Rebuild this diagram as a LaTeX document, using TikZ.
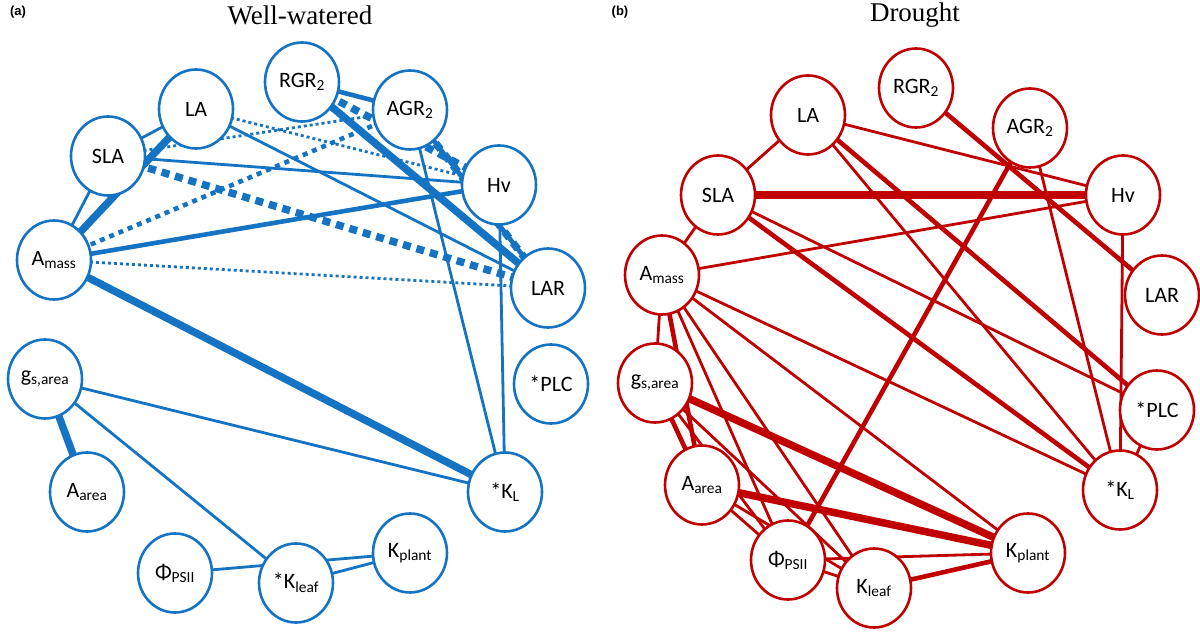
\documentclass[tikz,border=0pt]{standalone}
\usepackage{fontspec}
\setmainfont{Carlito}
\newfontfamily\serifx{Liberation Serif}
\newfontfamily\sansb{Liberation Sans}
\usetikzlibrary{shapes.geometric,backgrounds}
\newcommand{\sbx}[1]{\textsubscript{#1}}
\begin{document}
\begin{tikzpicture}[x=1pt,y=-1pt,
 nb/.style={ellipse,draw=blu,line width=2.6pt,fill=white,minimum width=74pt,minimum height=79pt,inner sep=0pt,font=\fontsize{22}{22}\selectfont},
 nr/.style={nb,draw=rd},
 e1/.style={line width=2.8pt},e2/.style={line width=4.6pt},e3/.style={line width=7.5pt},
 dt/.style={dash pattern=on 3pt off 3pt},dh/.style={dash pattern=on 8pt off 6pt}]
\definecolor{blu}{RGB}{20,115,195}
\definecolor{rd}{RGB}{192,0,0}
\useasboundingbox (0,0) rectangle (1200,636);
\node[font=\sansb\bfseries\fontsize{13}{13}\selectfont] (la) at (18,12) {(a)};
\node[font=\sansb\bfseries\fontsize{13}{13}\selectfont] (lb) at (620,12) {(b)};
\node[font=\serifx\fontsize{27}{27}\selectfont] (ta) at (300,15) {Well-watered};
\node[font=\serifx\fontsize{27}{27}\selectfont] (tb) at (915,15) {Drought};
% left nodes
\begin{scope}[every node/.style={nb}]
\node (LA) at (196,109) {LA};
\node (RGR) at (302,82) {RGR\sbx{2}};
\node (AGR) at (410,110) {AGR\sbx{2}};
\node (SLA) at (108,156) {SLA};
\node (Hv) at (499,185) {Hv};
\node (Am) at (54,260) {A\sbx{mass}};
\node (LAR) at (548,288) {LAR};
\node (gs) at (45,379) {g\sbx{s,area}};
\node (PLC) at (551,384) {*PLC};
\node (Aa) at (87,492) {A\sbx{area}};
\node (KL) at (505,492) {*K\sbx{L}};
\node (Kp) at (410,553) {K\sbx{plant}};
\node (Ph) at (175,573) {Φ\sbx{PSII}};
\node (Kl) at (296,583) {*K\sbx{leaf}};
\end{scope}
% right nodes
\begin{scope}[every node/.style={nr}]
\node (rLA) at (808,115) {LA};
\node (rRGR) at (916,88) {RGR\sbx{2}};
\node (rAGR) at (1030,128) {AGR\sbx{2}};
\node (rSLA) at (718,195) {SLA};
\node (rHv) at (1123,195) {Hv};
\node (rAm) at (662,275) {A\sbx{mass}};
\node (rLAR) at (1162,295) {LAR};
\node (rgs) at (655,383) {g\sbx{s,area}};
\node (rPLC) at (1157,410) {*PLC};
\node (rAa) at (702,485) {A\sbx{area}};
\node (rKL) at (1120,490) {*K\sbx{L}};
\node (rPh) at (788,560) {Φ\sbx{PSII}};
\node (rKl) at (874,588) {K\sbx{leaf}};
\node (rKp) at (1028,553) {K\sbx{plant}};
\end{scope}
\begin{pgfonlayer}{background}
\begin{scope}[draw=blu]
\draw[e1] (SLA.center)--(LA.center);
\draw[e1] (Am.center)--(SLA.center);
\draw[e3] (Am.center)--(LA.center);
\draw[e1,dt] (LA.center)--(Hv.center);
\draw[e1] (LA.center)--(LAR.center);
\draw[e1] (SLA.center)--(Hv.center);
\draw[e1,dt] (SLA.center)--(AGR.center);
\draw[e3,dh] (SLA.center)--(LAR.center);
\draw[e2,dash pattern=on 5pt off 5pt] (Am.center)--(AGR.center);
\draw[e2] (Am.center)--(Hv.center);
\draw[e1,dt] (Am.center)--(LAR.center);
\draw[e3] (Am.center)--(KL.center);
\draw[e2] (RGR.center)--(AGR.center);
\draw[e3] (RGR.center)--(LAR.center);
\draw[e3,dh] (RGR.center)--(Hv.center);
\draw[e2] (AGR.center)--(LAR.center);
\draw[e3,dh] (AGR.center)--(LAR.center);
\draw[e1] (AGR.center)--(KL.center);
\draw[e1] (Hv.center)--(KL.center);
\draw[e3] (gs.center)--(Aa.center);
\draw[e1] (gs.center)--(Kl.center);
\draw[e1] (gs.center)--(KL.center);
\draw[e1] (Ph.center)--(Kp.center);
\draw[e1] (Kl.center)--(Kp.center);
\end{scope}
\begin{scope}[draw=rd]
\draw[e1] (rSLA.center)--(rLA.center);
\draw[e1] (rSLA.center)--(rAm.center);
\draw[e1] (rLA.center)--(rHv.center);
\draw[e1] (rLA.center)--(rKL.center);
\draw[e2] (rLA.center)--(rPLC.center);
\draw[e3] (rSLA.center)--(rHv.center);
\draw[e2] (rSLA.center)--(rKL.center);
\draw[e1] (rSLA.center)--(rPLC.center);
\draw[e1] (rAm.center)--(rHv.center);
\draw[e1] (rAm.center)--(rKL.center);
\draw[e1] (rAm.center)--(rgs.center);
\draw[e2] (rAm.center)--(rAa.center);
\draw[e1] (rAm.center)--(rPh.center);
\draw[e1] (rAm.center)--(rKl.center);
\draw[e1] (rAm.center)--(rKp.center);
\draw[e2] (rRGR.center)--(rLAR.center);
\draw[e2] (rAGR.center)--(rPh.center);
\draw[e1] (rAGR.center)--(rKL.center);
\draw[e1] (rHv.center)--(rKL.center);
\draw[e1] (rPLC.center)--(rKL.center);
\draw[e2] (rgs.center)--(rAa.center);
\draw[e3] (rgs.center)--(rKp.center);
\draw[e1] (rgs.center)--(rKl.center);
\draw[e1] (rgs.center)--(rPh.center);
\draw[e3] (rAa.center)--(rKp.center);
\draw[e1] (rAa.center)--(rKl.center);
\draw[e1] (rAa.center)--(rPh.center);
\draw[e1] (rPh.center)--(rKp.center);
\draw[e1] (rPh.center)--(rKl.center);
\draw[e2] (rKl.center)--(rKp.center);
\end{scope}
\end{pgfonlayer}
\end{tikzpicture}
\end{document}
